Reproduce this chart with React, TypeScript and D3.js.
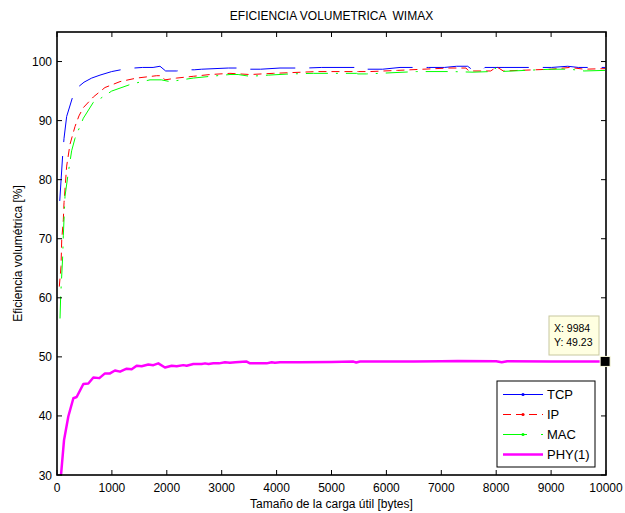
import React from "react";
import * as d3 from "d3";

const tcpX = [50, 103, 128, 176, 298, 400, 492, 632, 783, 996, 1269, 1400, 1560, 1750, 1876, 1979, 2180, 2331, 2500, 2635, 3121, 3450, 3520, 3709, 4062, 4536, 4822, 5446, 5488, 5641, 5932, 6248, 6763, 7055, 7280, 7480, 7552, 7765, 7795, 8160, 9010, 9302, 9496, 9984];
const tcpY = [76.4, 84.1, 87.0, 90.7, 94.4, 95.8, 96.5, 97.2, 97.7, 98.3, 98.8, 98.9, 99.0, 99.0, 99.2, 98.4, 98.4, 98.6, 98.6, 98.7, 98.9, 98.9, 98.7, 98.7, 98.9, 98.9, 99.0, 99.0, 98.7, 98.7, 98.7, 99.0, 99.0, 99.0, 99.2, 99.2, 98.7, 98.7, 99.0, 99.0, 99.0, 99.2, 99.0, 99.0];

const ipX = [42, 73, 86, 115, 128, 176, 237, 328, 400, 480, 662, 874, 1148, 1451, 1815, 1900, 1967, 2180, 2483, 2787, 3151, 3515, 3940, 4730, 5490, 5700, 6200, 7140, 7450, 7500, 7900, 8009, 8130, 8700, 9000, 9344, 9600, 9984];
const ipY = [61.9, 65.3, 69.8, 73.2, 76.1, 82.3, 86.0, 89.0, 90.8, 92.2, 94.0, 95.6, 96.6, 97.2, 97.6, 97.6, 96.9, 97.2, 97.5, 97.8, 98.0, 97.8, 98.0, 98.3, 98.3, 98.3, 98.5, 98.9, 98.9, 98.4, 98.4, 99.1, 98.4, 98.6, 98.7, 99.0, 98.7, 98.8];

const macX = [55, 67, 104, 115, 146, 206, 267, 328, 480, 662, 800, 996, 1360, 1694, 1900, 2058, 2483, 2800, 3151, 3300, 3515, 3849, 4244, 4669, 5458, 5480, 5640, 6552, 7200, 7578, 7900, 7978, 8060, 9000, 9344, 9600, 9984];
const macY = [56.5, 60.3, 67.1, 70.5, 77.2, 81.2, 84.9, 87.0, 90.4, 93.1, 93.8, 95.0, 96.2, 96.9, 96.9, 96.6, 97.2, 97.5, 97.8, 97.8, 97.5, 97.7, 97.9, 98.0, 98.0, 97.9, 97.9, 98.3, 98.3, 98.2, 98.3, 98.9, 98.3, 98.7, 98.7, 98.4, 98.5];

const phyX = [73, 128, 206, 298, 358, 480, 571, 662, 771, 874, 965, 1056, 1148, 1269, 1360, 1451, 1542, 1663, 1755, 1845, 1967, 2089, 2180, 2301, 2362, 2483, 2635, 2696, 2760, 2847, 2950, 3060, 3150, 3250, 3455, 3515, 3819, 3910, 3970, 4061, 4426, 5000, 5400, 5450, 5520, 6000, 6500, 7000, 7300, 8000, 8100, 8200, 9000, 9984];
const phyY = [30, 35.9, 39.9, 43.0, 43.2, 45.4, 45.5, 46.5, 46.4, 47.2, 47.2, 47.7, 47.5, 48.0, 47.9, 48.5, 48.4, 48.7, 48.6, 48.9, 48.2, 48.5, 48.4, 48.6, 48.5, 48.8, 48.8, 48.9, 48.8, 48.9, 48.9, 49.1, 49.0, 49.1, 49.2, 48.9, 48.9, 49.1, 49.0, 49.1, 49.1, 49.15, 49.2, 49.05, 49.2, 49.2, 49.2, 49.25, 49.3, 49.25, 49.1, 49.25, 49.23, 49.23];

const xTicks = [0, 1000, 2000, 3000, 4000, 5000, 6000, 7000, 8000, 9000, 10000];
const yTicks = [30, 40, 50, 60, 70, 80, 90, 100];
const legendNames = ["TCP", "IP", "MAC", "PHY(1)"];
const tipX = 9984;
const tipY = 49.23;

const W = 625, H = 513;
const L = 57, R = 606, T = 32, B = 475;
const FONT = "'Liberation Sans', Arial, sans-serif";

export default function App() {
  const x = d3.scaleLinear().domain([0, 10000]).range([L, R]);
  const y = d3.scaleLinear().domain([30, 105]).range([B, T]);
  const mk = (xs: number[], ys: number[]) =>
    d3.line<number>().x((d, i) => x(xs[i])).y((d) => y(d))(ys) || "";

  const series = [
    { d: mk(tcpX, tcpY), color: "#0000ff", w: 1, dash: "45,14" },
    { d: mk(ipX, ipY), color: "#ff0000", w: 1, dash: "8,5" },
    { d: mk(macX, macY), color: "#00ff00", w: 1, dash: "22,8,2,8" },
    { d: mk(phyX, phyY), color: "#ff00ff", w: 2.5, dash: "" },
  ];

  const legDash = ["", "8,5", "24,14,2,40", ""];
  const lgX = 497, lgY = 381, lgW = 98, lgH = 86;

  return (
    <div style={{ position: "absolute", left: 0, top: 0 }}>
      <svg width={W} height={H} style={{ display: "block", background: "#fff" }} fontFamily={FONT}>
        <defs>
          <clipPath id="plotclip">
            <rect x={L} y={T} width={R - L} height={B - T} />
          </clipPath>
        </defs>
        <rect x={0} y={0} width={W} height={H} fill="#fff" />
        <text x={(L + R) / 2} y={20} textAnchor="middle" fontSize={12} fill="#000" style={{ whiteSpace: "pre" }}>
          EFICIENCIA VOLUMETRICA  WIMAX
        </text>
        <g clipPath="url(#plotclip)">
          {series.map((s, i) => (
            <path key={i} d={s.d} fill="none" stroke={s.color} strokeWidth={s.w} strokeDasharray={s.dash || undefined} strokeLinejoin="round" />
          ))}
        </g>
        {/* ticks */}
        {xTicks.map((t) => (
          <g key={"xt" + t}>
            <line x1={x(t)} x2={x(t)} y1={B} y2={B - 5} stroke="#000" />
            <line x1={x(t)} x2={x(t)} y1={T} y2={T + 5} stroke="#000" />
            <text x={x(t)} y={B + 17} textAnchor="middle" fontSize={12} fill="#000">{t}</text>
          </g>
        ))}
        {yTicks.map((t) => (
          <g key={"yt" + t}>
            <line x1={L} x2={L + 5} y1={y(t)} y2={y(t)} stroke="#000" />
            <line x1={R} x2={R - 5} y1={y(t)} y2={y(t)} stroke="#000" />
            <text x={L - 5} y={y(t) + 4.5} textAnchor="end" fontSize={12} fill="#000">{t}</text>
          </g>
        ))}
        <rect x={L} y={T} width={R - L} height={B - T} fill="none" stroke="#000" strokeWidth={1.6} />
        <text x={(L + R) / 2} y={B + 33} textAnchor="middle" fontSize={12} fill="#000">
          Tamaño de la carga útil [bytes]
        </text>
        <text transform={`translate(22,${(T + B) / 2}) rotate(-90)`} textAnchor="middle" fontSize={12} fill="#000">
          Eficiencia volumétrica [%]
        </text>
        {/* legend */}
        <rect x={lgX} y={lgY} width={lgW} height={lgH} fill="#fff" stroke="#000" strokeWidth={1} />
        {legendNames.map((n, i) => {
          const s = series[i];
          const yy = lgY + 13.5 + i * 20;
          return (
            <g key={n}>
              <line x1={lgX + 6} x2={lgX + 46} y1={yy} y2={yy} stroke={s.color} strokeWidth={s.w} strokeDasharray={legDash[i] || undefined} />
              {i < 3 && <circle cx={lgX + 26} cy={yy} r={1.6} fill={s.color} />}
              <text x={lgX + 50} y={yy + 4.5} fontSize={13} fill="#000">{n}</text>
            </g>
          );
        })}
        {/* data tip */}
        <rect x={549} y={316} width={50} height={39} fill="#ffffe1" stroke="#c8c8a0" strokeWidth={1} />
        <text x={554} y={332} fontSize={10.5} fill="#000">X: {tipX}</text>
        <text x={554} y={346} fontSize={10.5} fill="#000">Y: {tipY}</text>
        <rect x={x(tipX) - 5} y={y(tipY) - 5} width={10} height={10} fill="#000" stroke="#ffffe1" strokeWidth={1} />
      </svg>
    </div>
  );
}
